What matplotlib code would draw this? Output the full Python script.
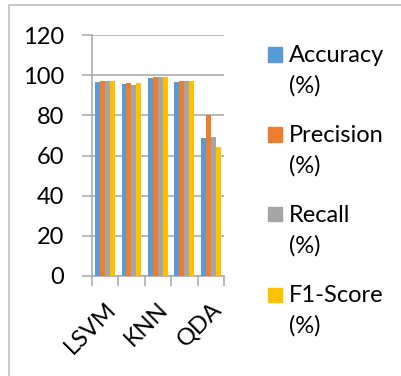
import matplotlib.pyplot as plt
import numpy as np
from matplotlib.patches import Rectangle

# model scores per classifier
categories = ['LSVM', 'RBF SVM', 'KNN', 'RF', 'QDA']
accuracy = [96.7, 95.5, 98.5, 96.7, 68.5]
precision = [97.0, 95.9, 99.0, 97.0, 80.0]
recall = [97.0, 95.0, 99.0, 97.0, 69.0]
f1_score = [97.0, 95.9, 99.0, 97.0, 64.0]
series_names = ['Accuracy', 'Precision', 'Recall', 'F1-Score']
colors = ['#5B9BD5', '#ED7D31', '#A5A5A5', '#FFC000']
yticks = [0, 20, 40, 60, 80, 100, 120]

plt.rcParams['font.family'] = ['Lato', 'DejaVu Sans']
W, H = 402, 376
fig = plt.figure(figsize=(W / 100, H / 100), dpi=100)


def fx(px):
    return px / W


def fy(py):
    return 1 - py / H


# outer chart border
fig.patches.append(Rectangle((fx(9), fy(376 + 10)), 1.2, fy(4.7) - fy(386),
                             transform=fig.transFigure, fill=False,
                             edgecolor='#c0c0c0', linewidth=1.2))

ax = fig.add_axes([fx(91.7), fy(276), fx(224) - fx(91.7), fy(35) - fy(276)])

values = [accuracy, precision, recall, f1_score]
x = np.arange(len(categories))
bw = 0.186
for i, (vals, c) in enumerate(zip(values, colors)):
    ax.bar(x + (i - 1.5) * bw, vals, bw, color=c, zorder=3)

ax.set_xlim(-0.5, len(categories) - 0.5)
ax.set_ylim(0, 120)
ax.set_yticks(yticks)
ax.yaxis.grid(True, color='#a6a6a6', linewidth=1.1, zorder=0)
for s in ['top', 'right']:
    ax.spines[s].set_visible(False)
for s in ['left', 'bottom']:
    ax.spines[s].set_color('#a6a6a6')
    ax.spines[s].set_linewidth(1.1)

ax.tick_params(axis='y', length=7, width=1.1, color='#a6a6a6', pad=13,
               labelsize=17, labelcolor='black')
# boundaries between categories get tick marks, every other name is shown
ax.set_xticks(np.arange(len(categories) + 1) - 0.5, minor=False)
ax.tick_params(axis='x', which='major', length=7, width=1.1, color='#a6a6a6',
               labelbottom=False)
ax.set_xticks(x[::2], minor=True)
ax.set_xticklabels(categories[::2], minor=True, rotation=45, ha='right',
                   rotation_mode='anchor', fontsize=17)
ax.tick_params(axis='x', which='minor', length=0, pad=16)

# legend on the right, each label wrapped over two lines
for i, (name, c) in enumerate(zip(series_names, colors)):
    base = 62 + i * 80
    fig.patches.append(Rectangle((fx(268), fy(base - 0.5)), fx(14), fy(0) - fy(14),
                                 transform=fig.transFigure, color=c))
    fig.text(fx(289), fy(base), name, fontsize=17, va='baseline', ha='left')
    fig.text(fx(289), fy(base + 31), '(%)', fontsize=17, va='baseline', ha='left')

fig.savefig('out.png', dpi=100)
